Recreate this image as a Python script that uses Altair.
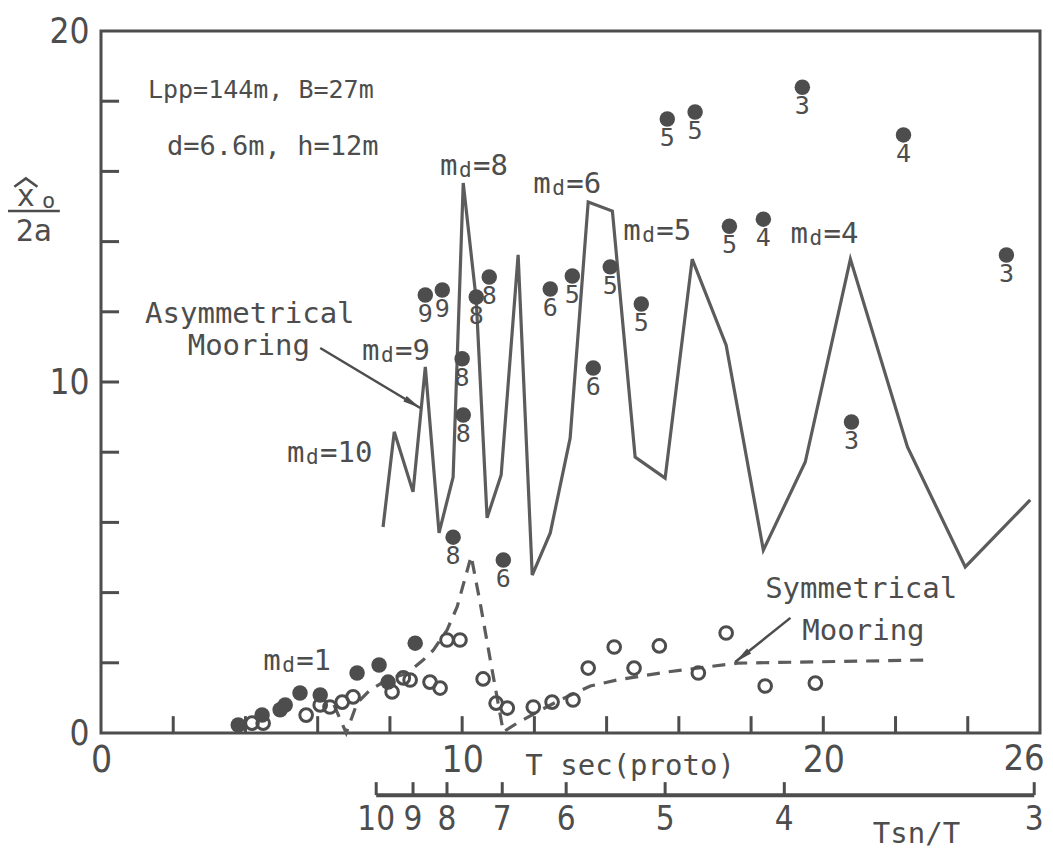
import altair as alt
import pandas as pd

# ---------------- data ----------------
# Asymmetrical mooring, computed (solid line)
asym_T = [7.81, 8.12, 8.64, 8.98, 9.36, 9.75, 10.03, 10.39, 10.69, 11.08, 11.55, 11.94, 12.44,
          12.99, 13.49, 14.16, 14.79, 15.62, 16.37, 17.31, 18.34, 19.50, 20.75, 22.33, 23.93, 25.73]
asym_X = [5.87, 8.58, 6.87, 10.43, 5.70, 7.29, 15.67, 12.34, 6.13, 7.35, 13.62, 4.50, 5.70,
          8.40, 15.13, 14.87, 7.86, 7.26, 13.50, 11.05, 5.21, 7.72, 13.50, 8.15, 4.73, 6.64]

# Symmetrical mooring, computed (dashed line)
sym_T = [6.45, 6.79, 7.09, 7.45, 7.92, 8.48, 8.92, 9.20, 9.58, 9.86, 10.25, 10.50, 10.78,
         11.14, 11.52, 12.08, 12.71, 13.55, 14.29, 15.68, 17.62, 19.36, 22.85]
sym_X = [0.80, 0.00, 0.85, 1.23, 1.51, 1.71, 2.08, 2.36, 2.93, 3.59, 5.04, 3.70, 2.08,
         0.03, 0.28, 0.60, 0.94, 1.34, 1.51, 1.74, 1.99, 2.02, 2.08]

# Asymmetrical mooring, experiment (filled dots, labelled with m_d)
asym_exp_T = [8.98, 9.45, 10.39, 10.75, 12.44, 13.05, 14.10, 10.00, 13.63, 10.03, 9.75, 11.14,
              14.96, 17.40, 18.34, 20.78, 15.68, 16.45, 19.42, 22.22, 25.07]
asym_exp_X = [12.48, 12.62, 12.42, 12.99, 12.65, 13.02, 13.28, 10.66, 10.40, 9.06, 5.58, 4.93,
              12.22, 14.44, 14.64, 8.86, 17.49, 17.69, 18.40, 17.04, 13.62]
asym_exp_m = ["9", "9", "8", "8", "6", "5", "5", "8", "6", "8", "8", "6",
              "5", "5", "4", "3", "5", "5", "3", "4", "3"]

# Asymmetrical mooring, experiment, m_d = 1 region (filled dots, no labels)
asym_low_T = [3.80, 4.46, 4.96, 5.10, 5.51, 6.07, 7.09, 7.70, 7.95, 8.70]
asym_low_X = [0.23, 0.51, 0.66, 0.80, 1.14, 1.08, 1.71, 1.94, 1.45, 2.56]

# Symmetrical mooring, experiment (open circles)
sym_exp_T = [4.18, 4.49, 5.68, 6.07, 6.34, 6.68, 6.98, 8.06, 8.37, 8.56, 9.11, 9.39, 9.58, 9.94,
             10.58, 10.94, 11.25, 11.97, 12.49, 13.07, 13.49, 14.21, 14.76, 15.46, 16.54, 17.31,
             18.39, 19.78]
sym_exp_X = [0.28, 0.28, 0.51, 0.80, 0.74, 0.88, 1.03, 1.17, 1.57, 1.51, 1.45, 1.28, 2.65, 2.65,
             1.54, 0.85, 0.71, 0.74, 0.88, 0.94, 1.85, 2.45, 1.85, 2.48, 1.71, 2.85,
             1.34, 1.42]

# axis ticks
x_tick_vals = [2, 4, 6, 8, 10, 12, 14, 16, 18, 20, 22, 24]
y_tick_vals = [2, 4, 6, 8, 10, 12, 14, 16, 18]
x_label_vals = [0, 10, 20]
x_end_label = ["26"]
y_label_vals = [0, 10, 20]

# secondary axis Tsn/T (positions in T)
tsn_T = [7.62, 8.64, 9.58, 11.11, 12.88, 15.62, 18.92, 25.84]
tsn_labels = ["10", "9", "8", "7", "6", "5", "4", "3"]

# m_d annotations
md_T = [9.39, 11.97, 14.46, 19.09, 7.23, 5.15, 4.49]
md_X = [15.90, 15.38, 14.05, 13.96, 10.63, 7.72, 1.79]
md_n = ["8", "6", "5", "4", "9", "10", "1"]

# ---------------- style ----------------
INK = "#4d4d4d"
LINE = "#5c5c5c"
MONO = "DejaVu Sans Mono"
NARROW = "Liberation Sans Narrow, DejaVu Sans Condensed, DejaVu Sans"

xs = alt.Scale(domain=[0, 26], nice=False, zero=False)
ys = alt.Scale(domain=[0, 20], nice=False, zero=False)
xaxis = alt.Axis(values=x_label_vals, ticks=False, domain=False, grid=False, labelFontSize=37,
                 labelFont=NARROW, labelColor=INK, labelPadding=9, labelFlush=False, title=None)
yaxis = alt.Axis(values=y_label_vals, ticks=False, domain=False, grid=False, labelFontSize=35,
                 labelFont=NARROW, labelColor=INK, labelPadding=12, title=None)


def ex(f="x"):
    return alt.X(f, type="quantitative", scale=xs, axis=xaxis)


def ey(f="y"):
    return alt.Y(f, type="quantitative", scale=ys, axis=yaxis)


layers = []

# computed curves
asym_df = pd.DataFrame({"x": asym_T, "y": asym_X, "o": range(len(asym_T))})
layers.append(alt.Chart(asym_df).mark_line(color=LINE, strokeWidth=3.2, strokeJoin="miter")
              .encode(x=ex(), y=ey(), order="o:Q"))
sym_df = pd.DataFrame({"x": sym_T, "y": sym_X, "o": range(len(sym_T))})
layers.append(alt.Chart(sym_df).mark_line(color=LINE, strokeWidth=3.2, strokeDash=[13, 9])
              .encode(x=ex(), y=ey(), order="o:Q"))

# experimental points
exp_df = pd.DataFrame({"x": asym_exp_T, "y": asym_exp_X, "t": asym_exp_m})
layers.append(alt.Chart(exp_df).mark_circle(size=240, color=INK, opacity=1)
              .encode(x=ex(), y=ey()))
layers.append(alt.Chart(exp_df).mark_text(font=MONO, fontSize=25, color=INK, dy=19,
                                          baseline="middle", align="center")
              .encode(x=ex(), y=ey(), text="t:N"))
low_df = pd.DataFrame({"x": asym_low_T, "y": asym_low_X})
sym_exp_df = pd.DataFrame({"x": sym_exp_T, "y": sym_exp_X})
layers.append(alt.Chart(sym_exp_df).mark_point(shape="circle", filled=False, size=160,
                                               strokeWidth=3, color=INK, opacity=1)
              .encode(x=ex(), y=ey()))
layers.append(alt.Chart(low_df).mark_circle(size=240, color=INK, opacity=1)
              .encode(x=ex(), y=ey()))

# inward ticks
xt_df = pd.DataFrame({"x": x_tick_vals})
layers.append(alt.Chart(xt_df).mark_rule(color=INK, strokeWidth=3)
              .encode(x=ex(), y=alt.datum(0), y2=alt.datum(0.48)))
yt_df = pd.DataFrame({"y": y_tick_vals})
layers.append(alt.Chart(yt_df).mark_rule(color=INK, strokeWidth=3)
              .encode(y=ey(), x=alt.datum(0), x2=alt.datum(0.5)))

# last x label (kept inside the page)
end_df = pd.DataFrame({"x": [26], "t": x_end_label})
layers.append(alt.Chart(end_df).mark_text(font=NARROW, fontSize=36, color=INK, dx=-16, dy=9,
                                          baseline="top", align="center")
              .encode(x=ex(), y=alt.datum(0), text="t:N"))

# secondary Tsn/T axis
sec_line = pd.DataFrame({"x": [tsn_T[0]], "x2": [tsn_T[-1]]})
layers.append(alt.Chart(sec_line).mark_rule(color=INK, strokeWidth=4)
              .encode(x=ex(), x2="x2:Q", y=alt.datum(-1.77)))
sec_df = pd.DataFrame({"x": tsn_T, "t": tsn_labels})
layers.append(alt.Chart(sec_df).mark_rule(color=INK, strokeWidth=3)
              .encode(x=ex(), y=alt.datum(-1.77), y2=alt.datum(-1.40)))
layers.append(alt.Chart(sec_df).mark_text(font=NARROW, fontSize=33, color=INK,
                                          baseline="alphabetic", align="center")
              .encode(x=ex(), y=alt.datum(-2.76), text="t:N"))

# axis / scale titles
titles = pd.DataFrame({"x": [14.65, 22.58], "y": [-1.20, -3.12], "t": ["T sec(proto)", "Tsn/T"]})
layers.append(alt.Chart(titles).mark_text(font=MONO, fontSize=29, color=INK,
                                          baseline="alphabetic", align="center")
              .encode(x=ex(), y=ey(), text="t:N"))

# y title  x^o / 2a
yt1 = pd.DataFrame({"x": [-2.08], "y": [15.27], "t": ["x"]})
layers.append(alt.Chart(yt1).mark_text(font=MONO, fontSize=30, color=INK, baseline="middle")
              .encode(x=ex(), y=ey(), text="t:N"))
hat = pd.DataFrame({"x": [-2.40, -2.08, -1.76], "y": [15.56, 15.80, 15.56], "o": [0, 1, 2]})
layers.append(alt.Chart(hat).mark_line(color=INK, strokeWidth=2.5)
              .encode(x=ex(), y=ey(), order="o:Q"))
yt_o = pd.DataFrame({"x": [-1.45], "y": [15.16], "t": ["o"]})
layers.append(alt.Chart(yt_o).mark_text(font=MONO, fontSize=22, color=INK, baseline="middle")
              .encode(x=ex(), y=ey(), text="t:N"))
frac = pd.DataFrame({"x": [-2.58], "x2": [-1.14]})
layers.append(alt.Chart(frac).mark_rule(color=INK, strokeWidth=2.5)
              .encode(x=ex(), x2="x2:Q", y=alt.datum(14.87)))
yt2 = pd.DataFrame({"x": [-1.86], "y": [14.28], "t": ["2a"]})
layers.append(alt.Chart(yt2).mark_text(font=MONO, fontSize=30, color=INK, baseline="middle")
              .encode(x=ex(), y=ey(), text="t:N"))

# parameter text
params = pd.DataFrame({"x": [1.30, 1.83], "y": [18.09, 16.47],
                       "t": ["Lpp=144m, B=27m", "d=6.6m, h=12m"], "fs": [25, 27]})
layers.append(alt.Chart(params).mark_text(font=MONO, color=INK,
                                          baseline="alphabetic", align="left")
              .encode(x=ex(), y=ey(), text="t:N", size=alt.Size("fs:Q", scale=None)))

# curve labels
names = pd.DataFrame({"x": [1.22, 2.40, 18.39, 19.42], "y": [11.68, 10.77, 3.85, 2.65],
                      "t": ["Asymmetrical", "Mooring", "Symmetrical", "Mooring"]})
layers.append(alt.Chart(names).mark_text(font=MONO, fontSize=29, color=INK,
                                         baseline="alphabetic", align="left")
              .encode(x=ex(), y=ey(), text="t:N"))

# m_d labels
md_df = pd.DataFrame({"x": md_T, "y": md_X, "m": "m", "d": "d", "n": ["=" + n for n in md_n]})
layers.append(alt.Chart(md_df).mark_text(font=MONO, fontSize=29, color=INK,
                                         baseline="alphabetic", align="left")
              .encode(x=ex(), y=ey(), text="m:N"))
layers.append(alt.Chart(md_df).mark_text(font=MONO, fontSize=21, color=INK, dx=19, dy=2,
                                         baseline="alphabetic", align="left")
              .encode(x=ex(), y=ey(), text="d:N"))
layers.append(alt.Chart(md_df).mark_text(font=MONO, fontSize=29, color=INK, dx=33,
                                         baseline="alphabetic", align="left")
              .encode(x=ex(), y=ey(), text="n:N"))

# arrows
arrows = pd.DataFrame({"x": [6.07, 8.84, 19.09, 17.56], "y": [10.97, 9.26, 3.28, 2.02],
                       "a": [0, 0, 1, 1]})
layers.append(alt.Chart(arrows).mark_line(color=INK, strokeWidth=2.5)
              .encode(x=ex(), y=ey(), detail="a:N"))
HEAD = "M0,-1L0.32,0.75L-0.32,0.75Z"
head1 = pd.DataFrame({"x": [8.60], "y": [9.41]})
layers.append(alt.Chart(head1).mark_point(shape=HEAD, size=420, filled=True, color=INK,
                                          opacity=1, angle=121)
              .encode(x=ex(), y=ey()))
head2 = pd.DataFrame({"x": [17.78], "y": [2.20]})
layers.append(alt.Chart(head2).mark_point(shape=HEAD, size=420, filled=True, color=INK,
                                          opacity=1, angle=231)
              .encode(x=ex(), y=ey()))

chart = (
    alt.layer(*layers)
    .properties(width=939, height=702,
                padding={"left": 93, "top": 23, "right": 4, "bottom": 118},
                autosize=alt.AutoSizeParams(type="none"),
                background="white")
    .configure_view(stroke=INK, strokeWidth=3)
)

chart.save("out.html", embed_options={"renderer": "svg", "actions": False})
